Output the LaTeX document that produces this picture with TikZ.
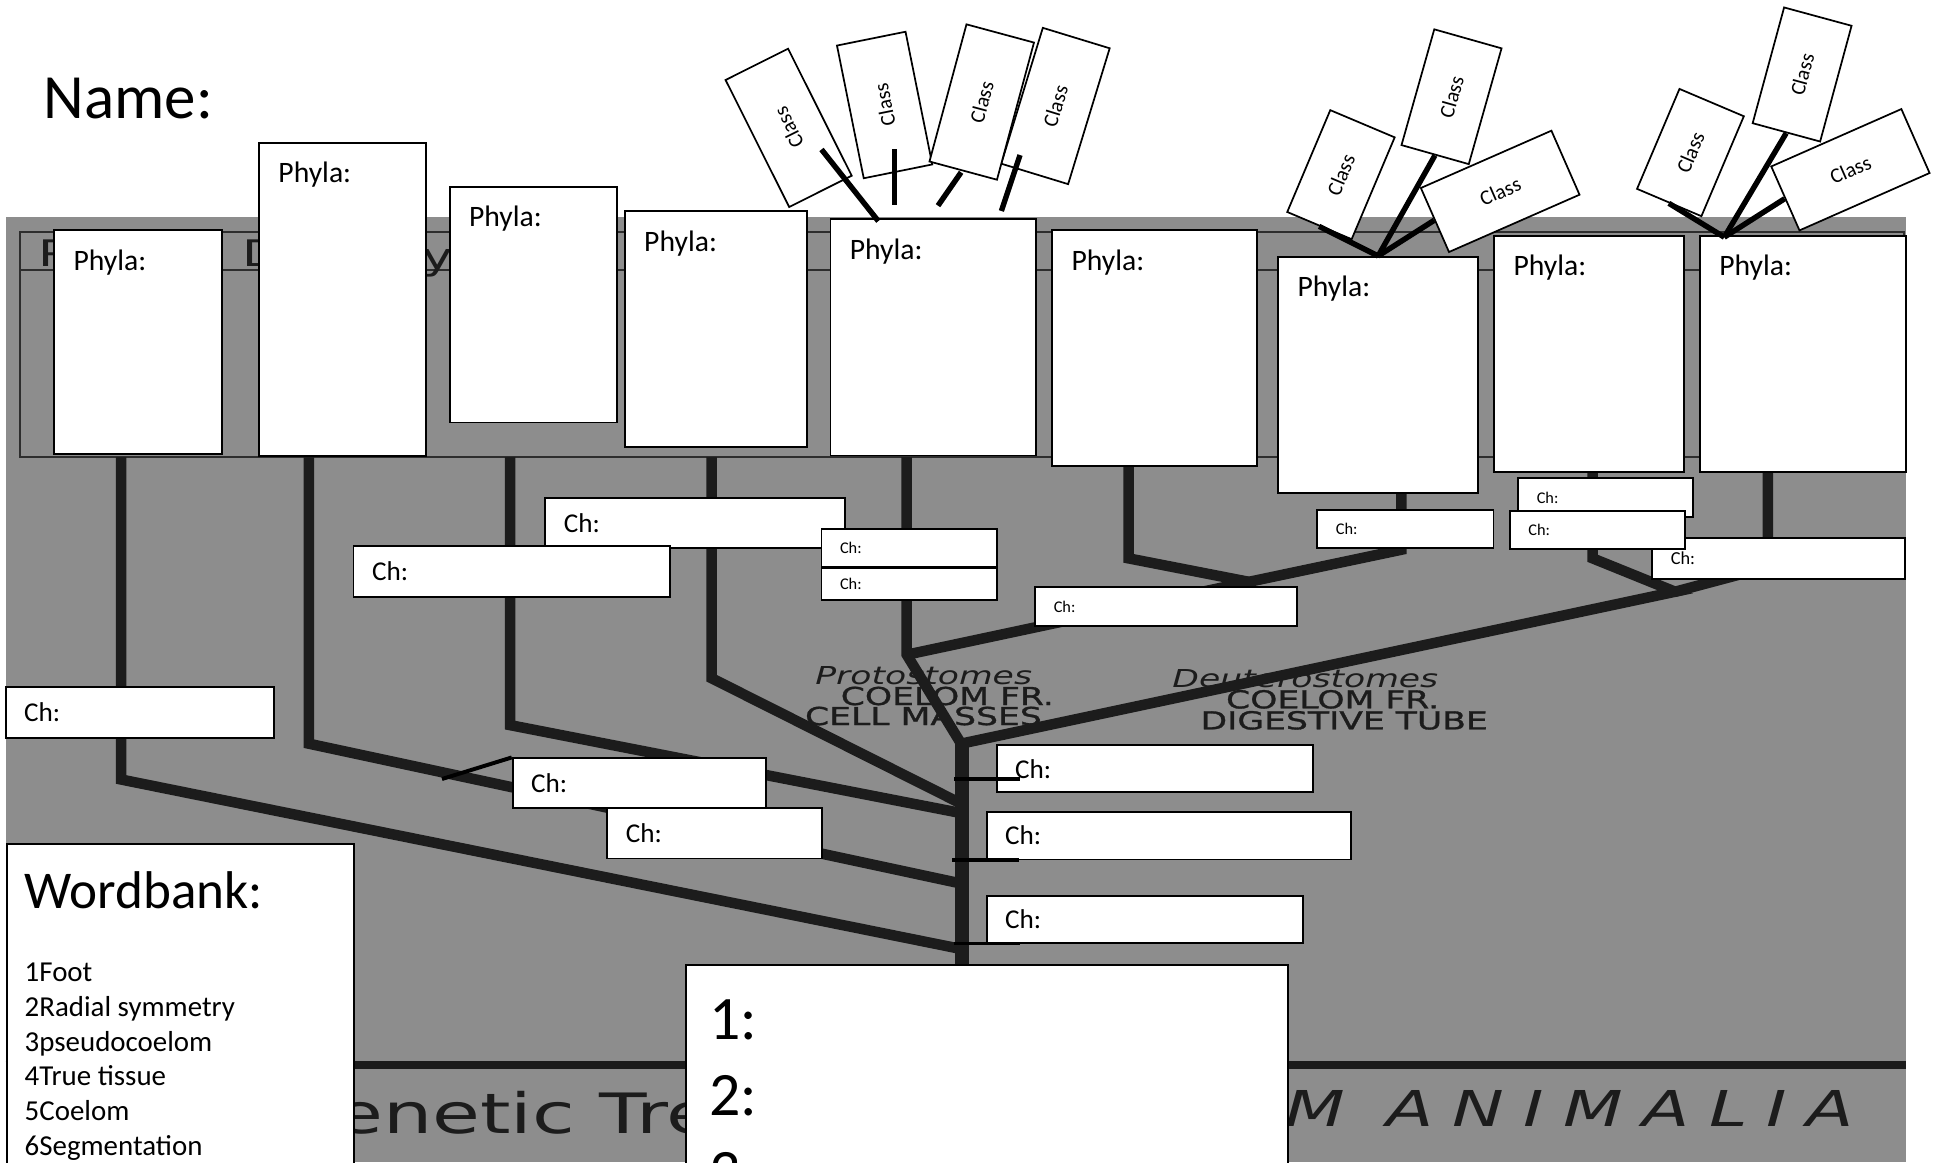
\documentclass[tikz,border=0pt]{standalone}
\usepackage{fontspec}
\setmainfont{Carlito}
\newfontfamily\bgfont{DejaVu Sans}[FakeStretch=1.4]
\newfontfamily\treefont{DejaVu Sans}[FakeStretch=1.4,FakeBold=1.2]
\newfontfamily\kingfont{DejaVu Sans}[FakeStretch=1.4,LetterSpace=39]
\definecolor{bggray}{RGB}{141,141,141}
\definecolor{treeink}{RGB}{28,28,28}
\definecolor{frameink}{RGB}{45,45,45}
\begin{document}
\begin{tikzpicture}[x=0.5pt,y=-0.5pt,
  phybox/.style={draw, fill=white, line width=0.75pt, inner sep=0pt, anchor=north west},
  phylabel/.style={anchor=base west, inner sep=0pt, font=\fontsize{12}{14}\selectfont},
  classbox/.style={draw, fill=white, line width=0.7pt, inner sep=0pt, minimum height=28.3pt, font=\fontsize{8.5}{10}\selectfont},
  classlink/.style={line width=2.2pt},
  chbox/.style={draw, fill=white, line width=0.75pt, inner xsep=7.5pt, inner ysep=0pt, align=left, font=\fontsize{11}{13}\selectfont},
  chsmall/.style={chbox, font=\fontsize{6.6}{8}\selectfont},
  chmid/.style={chbox, font=\fontsize{7.4}{9}\selectfont},
  chlink/.style={line width=1.6pt},
  branch/.style={line width=4.25pt, draw=treeink},
  trunk/.style={line width=5.5pt, draw=treeink},
  bglabel/.style={anchor=base west, inner sep=0pt, text=treeink, font=\treefont\fontsize{10}{12}\selectfont},
  wordtext/.style={anchor=base west, inner sep=0pt, font=\fontsize{11.7}{14}\selectfont},
  anstext/.style={anchor=base west, inner sep=0pt, font=\fontsize{25}{30}\selectfont}]
\useasboundingbox (0,0) rectangle (1568,941);
\clip (0,0) rectangle (1568,941);
\fill[white] (0,0) rectangle (1568,941);

%Shape: faded tree picture
\fill[bggray] (4.6,175.7) rectangle (1543,941);
\draw[frameink, line width=0.85pt] (16.2,187.5) rectangle (1541,370.2);
\draw[frameink, line width=0.85pt] (16.2,218.6) -- (1541,218.6);
\node[bglabel, font=\bgfont\fontsize{14.8}{16}\selectfont] (frp) at (31,216) {P};
\node[bglabel, font=\bgfont\fontsize{14.8}{16}\selectfont] (frd) at (196,216) {D};
\node[bglabel, font=\bgfont\fontsize{14.8}{16}\selectfont] (fry) at (342,218) {y};

% Text Node
\node[bglabel, font=\bgfont\itshape\fontsize{10}{12}\selectfont] (proto) at (659.6,554.5) {Protostomes};
\node[bglabel] (protoa) at (680.2,570.7) {COELOM FR.};
\node[bglabel] (protob) at (651.3,586.9) {CELL MASSES};
\node[bglabel, font=\bgfont\itshape\fontsize{10}{12}\selectfont] (deut) at (948.7,556.4) {Deuterostomes};
\node[bglabel] (deuta) at (992.1,573.4) {COELOM FR.};
\node[bglabel] (deutb) at (971.4,590.4) {DIGESTIVE TUBE};
\draw[treeink, line width=3.35pt] (4.6,862) -- (1543,862);
\node[bglabel, font=\bgfont\fontsize{22.5}{26}\selectfont] (title) at (271,917.4) {enetic Tre};
\node[bglabel, font=\kingfont\itshape\fontsize{20}{24}\selectfont] (kingdom) at (1040,912) {M ANIMALIA};

%Straight Lines: tree branches
\draw[branch] (98,370) -- (98,631) -- (777,768);
\draw[branch] (250,370) -- (250,602) -- (777,715);
\draw[branch] (413,370) -- (413,587) -- (777,658);
\draw[branch] (576,370) -- (576,549) -- (777,650);
\draw[branch] (734,370) -- (734,530) -- (778,602);
\draw[branch] (913.6,370) -- (913.6,452) -- (1011,471);
\draw[branch] (1134.4,370) -- (1134.4,445) -- (1011,471) -- (734,530);
\draw[branch] (1289.3,370) -- (1289.3,452) -- (1356,479) -- (778,602);
\draw[branch] (1431,370) -- (1431,459) -- (1356,479);
\draw[trunk] (778.5,598) -- (778.5,800);

%Shape: Phyla boxes
\foreach \nm/\x/\y/\w/\h in {p1/43.2/185.6/67.85pt/90.7pt, p2/209/114.7/67.5pt/126.8pt,
    p3/363.3/150.3/67.55pt/95.5pt, p4/505.1/170/73.85pt/95.5pt, p5/671.5/176.7/83.1pt/95.65pt,
    p6/851/185.6/82.8pt/95.4pt, p7/1034/207.2/80.85pt/95.7pt, p8/1208.8/190/76.8pt/95.5pt,
    p9/1375.4/190/83.4pt/95.5pt}{
  \node[phybox, minimum width=\w, minimum height=\h] (\nm) at (\x,\y) {};
  \node[phylabel] (\nm-lab) at ([xshift=8pt,yshift=-16.6pt]\nm.north west) {Phyla:};
}

%Shape: Class boxes
\foreach \nm/\x/\y/\len/\rot in {c1/638.4/103.5/57.5pt/116.6, c2/716.1/85/54.8pt/101.4,
    c4/854.4/85.8/57.5pt/73, c3/794.7/82.6/57.5pt/74.9, c5/1085.5/141.4/44.75pt/67.1,
    c6/1175/78.3/48.7pt/74.2, c7/1214.4/154.9/57.7pt/23.7, c8/1368.4/123.5/43.95pt/67,
    c9/1458.8/60.3/48.55pt/74.8, c10/1497.9/137.4/57.55pt/23.8}
  \node[classbox, minimum width=\len, rotate=\rot] (\nm) at (\x,\y) {Class};

%Straight Lines: class links
\draw[classlink] (665,121) coordinate (s1a) -- (711,179) coordinate (s1b);
\draw[classlink] (724,121) coordinate (s2a) -- (724,166) coordinate (s2b);
\draw[classlink] (778,139.5) coordinate (s3a) -- (759.3,166.5) coordinate (s3b);
\draw[classlink] (825.7,125.5) coordinate (s4a) -- (810.6,170.8) coordinate (s4b);
\foreach \c in {c5,c6,c7}
  \draw[classlink] (\c.west) -- (p7.north);
\coordinate (p9hub) at ([xshift=10.2pt,yshift=-1pt]p9.north west);
\foreach \c in {c8,c9,c10}
  \draw[classlink] (\c.west) -- (p9hub);

%Shape: Ch boxes
\foreach \nm/\x/\y/\tw/\h/\st in {cha/562.7/423.4/106.3pt/20.5pt/chbox, chb/414.25/462.75/113.05pt/20.75pt/chbox,
    chc/736/443.9/56pt/15.4pt/chsmall, chd/736/472.85/56pt/12.85pt/chsmall,
    che/943.95/491/90.95pt/15.5pt/chsmall, chf/113.3/576.55/93.7pt/20.65pt/chbox,
    chg/517.7/634.15/87.7pt/20.25pt/chbox, chh/578.5/674.7/71.9pt/20.3pt/chbox,
    chi/935/622.25/113.2pt/19.15pt/chbox, chj/946/676.4/132.3pt/19.3pt/chbox,
    chk/926.9/744.45/113.2pt/19.15pt/chbox, chl/1137.7/428.4/56.3pt/15.5pt/chsmall,
    cho/1439.8/452/87.3pt/16.7pt/chmid, chm/1299.9/402.75/55.9pt/15.55pt/chsmall,
    chn/1293.1/428.9/55.9pt/15.5pt/chsmall}
  \node[\st, text width=\tw, minimum height=\h] (\nm) at (\x,\y) {Ch:};

%Straight Lines: Ch links
\draw[chlink] (357.8,630.6) coordinate (g1) -- (chg.north west);
\draw[chlink] ([xshift=-16.75pt,yshift=-4.3pt]chi.west) -- ([xshift=10pt,yshift=-4.3pt]chi.west);
\draw[chlink] ([xshift=-13.5pt]chj.south west) -- ([xshift=13.5pt]chj.south west);
\draw[chlink] ([xshift=-12.7pt,yshift=0.3pt]chk.south west) -- ([xshift=14pt,yshift=0.3pt]chk.south west);

%Shape: Wordbank and answers
\node[phybox, minimum width=140.6pt, minimum height=140pt] (wordbank) at (4.6,682.7) {};
\node[anchor=base west, inner sep=0pt, font=\fontsize{21.5}{26}\selectfont] (wordhead) at (19.6,735.3) {Wordbank:};
\foreach \word [count=\i] in {1Foot,2Radial symmetry,3pseudocoelom,4True tissue,5Coelom,6Segmentation}
  \node[wordtext] (word\i) at (19.6,766.6+28.1*\i) {\word};
\node[phybox, minimum width=243.85pt, minimum height=100pt] (answers) at (554.5,780.4) {};
\foreach \n in {1,2,3}
  \node[anstext] (ans\n) at (574,779.4+61.9*\n) {\n:};

% Text Node
\node[anchor=base west, inner sep=0pt, font=\fontsize{25.5}{30}\selectfont] (name) at (35,95.8) {Name:};
\end{tikzpicture}
\end{document}
